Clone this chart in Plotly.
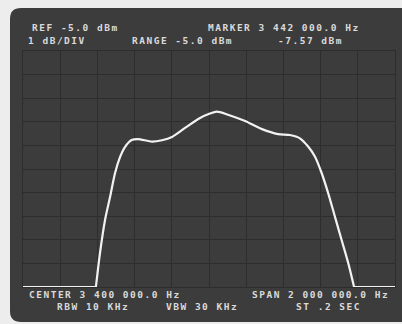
import plotly.graph_objects as go

# Trace (frequency in MHz, level in dBm)
freq_mhz = [2.40, 2.60, 2.792, 2.814, 2.841, 2.868, 2.895, 2.922, 2.948, 2.984, 3.018,
            3.094, 3.147, 3.201, 3.271, 3.352, 3.405, 3.442, 3.502, 3.594, 3.685,
            3.771, 3.835, 3.889, 3.934, 3.970, 4.006, 4.041, 4.077, 4.113, 4.149,
            4.180, 4.30, 4.40]
level_dbm = [-15.0, -15.0, -15.0, -13.56, -12.16, -11.19, -10.17, -9.49, -9.07, -8.77, -8.73,
             -8.84, -8.78, -8.64, -8.26, -7.84, -7.65, -7.57, -7.70, -7.97, -8.31,
             -8.52, -8.56, -8.70, -9.06, -9.48, -10.18, -11.03, -12.02, -13.01, -14.0,
             -15.0, -15.0, -15.0]

# Instrument readouts
header_left = ["REF -5.0 dBm", "1 dB/DIV"]
header_mid = "RANGE -5.0 dBm"
marker_lines = ["MARKER 3 442 000.0 Hz", "-7.57 dBm"]
footer_left = "CENTER 3 400 000.0 Hz"
footer_right = "SPAN 2 000 000.0 Hz"
footer_row2 = ["RBW 10 KHz", "VBW 30 KHz", "ST .2 SEC"]

W, H = 402, 324
SCREEN = "#3c3c3c"
GRID = "#2d2d2d"
INK = "#dadada"
TRACE = "#f2f2f2"


def px(x):
    return x / W


def py(y):
    return 1 - y / H


fig = go.Figure()

# the trace is clipped to the bottom graticule line; the hump between is smooth
lo = [i for i, v in enumerate(level_dbm) if v <= -15.0]
first_rise = max(i for i in lo if i < len(level_dbm) // 2)
last_fall = min(i for i in lo if i > len(level_dbm) // 2)
segments = [
    (slice(0, first_rise + 1), "linear"),
    (slice(first_rise, last_fall + 1), "spline"),
    (slice(last_fall, len(level_dbm)), "linear"),
]
for sl, shape in segments:
    fig.add_trace(go.Scatter(
        x=freq_mhz[sl], y=level_dbm[sl], mode="lines",
        line=dict(color=TRACE, width=2.2, shape=shape, smoothing=0.8),
        cliponaxis=False, hoverinfo="skip", showlegend=False,
    ))

# screen with rounded left corners
r = 11
x0, y0, x1, y1 = 10, 8, 404, 322
path = (f"M {px(x0 + r)},{py(y0)} L {px(x1)},{py(y0)} L {px(x1)},{py(y1)} "
        f"L {px(x0 + r)},{py(y1)} Q {px(x0)},{py(y1)} {px(x0)},{py(y1 - r)} "
        f"L {px(x0)},{py(y0 + r)} Q {px(x0)},{py(y0)} {px(x0 + r)},{py(y0)} Z")
fig.add_shape(type="path", path=path, xref="paper", yref="paper",
              fillcolor=SCREEN, line=dict(width=0), layer="below")

font = dict(family="DejaVu Sans Mono", size=9.5, color=INK)


def label(text, xc, y):
    fig.add_annotation(
        text=f'<span style="letter-spacing:1.5px"><b>{text}</b></span>',
        x=px(xc), y=py(y), xref="paper", yref="paper",
        xanchor="center", yanchor="middle", showarrow=False, font=font,
        borderpad=0)


label(header_left[0], 75, 27)
label(header_left[1], 57, 40)
label(header_mid, 182, 40)
label(marker_lines[0], 284, 27)
label(marker_lines[1], 310, 40)
label(footer_left, 105, 294.5)
label(footer_right, 320, 294.5)
label(footer_row2[0], 93, 306)
label(footer_row2[1], 202, 306)
label(footer_row2[2], 328, 306)

axis_common = dict(showgrid=True, gridcolor=GRID, gridwidth=1.2, zeroline=False,
                   showticklabels=False, ticks="", showline=True, linecolor=GRID,
                   linewidth=1.2, mirror=True, fixedrange=True)

fig.update_layout(
    width=W, height=H, margin=dict(l=0, r=0, t=0, b=0),
    paper_bgcolor="#ededed", plot_bgcolor="rgba(0,0,0,0)",
    xaxis=dict(range=[2.4, 4.4], dtick=0.2, tick0=2.4,
               domain=[px(23), px(395)], **axis_common),
    yaxis=dict(range=[-15, -5], dtick=1, tick0=-15,
               domain=[py(287), py(51)], **axis_common),
)

fig.write_html("out.html", config={"displayModeBar": False},
               post_script="document.body.style.margin='0';")
